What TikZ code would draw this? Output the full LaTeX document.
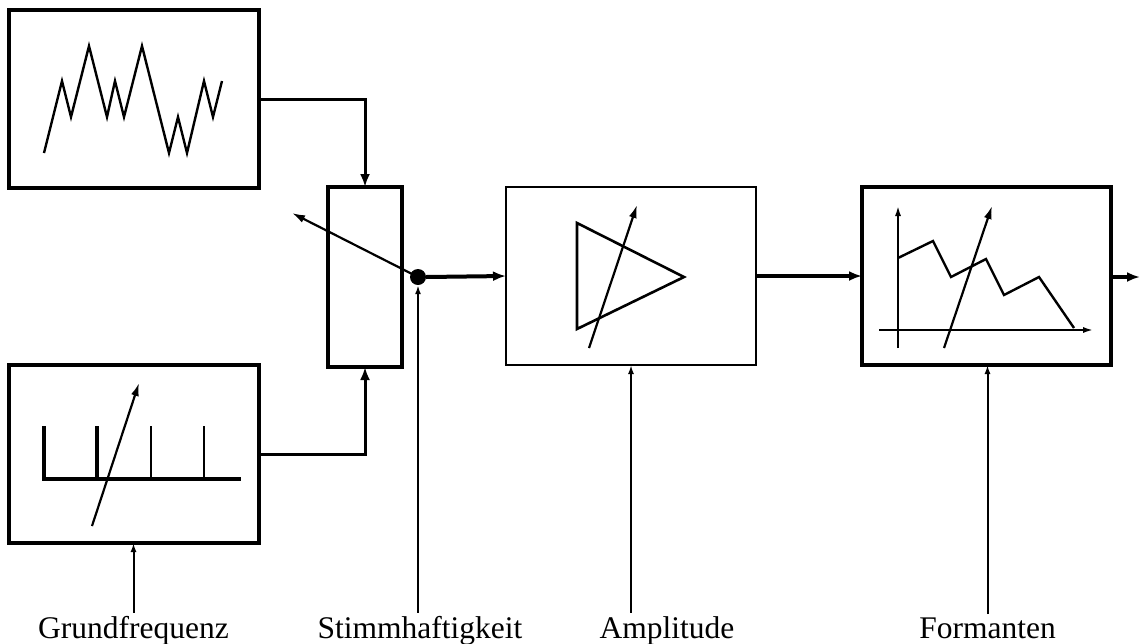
\documentclass[tikz,border=0pt]{standalone}
\usepackage{fontspec}
\setmainfont{Liberation Serif}
\usetikzlibrary{arrows.meta}
\begin{document}
\begin{tikzpicture}[x=1pt,y=-1pt,
  blk/.style={draw, line width=3.2pt, inner sep=0pt, outer sep=0pt},
  thinblk/.style={draw, line width=2.3pt, inner sep=0pt, outer sep=0pt},
  conn/.style={line width=3pt, -{Latex[length=13pt,width=10pt]}},
  sig/.style={line width=4pt, -{Latex[length=13pt,width=10pt]}},
  lbl/.style={line width=2pt, -{Latex[length=9pt,width=6pt]}},
  knob/.style={line width=2.2pt, -{Latex[length=13pt,width=8pt]}},
  icon/.style={line width=2.4pt, line join=miter},
  axis/.style={line width=2.2pt, -{Latex[length=11pt,width=6pt]}},
  txt/.style={font=\fontsize{31.5}{36}\selectfont, anchor=base, inner sep=0pt}]
\useasboundingbox (0,0) rectangle (1140,643);

% blocks
\node[blk, minimum width=250pt, minimum height=178pt] (noise) at (134,99) {};
\node[blk, minimum width=250pt, minimum height=178pt] (pulse) at (134,454) {};
\node[blk, minimum width=74pt, minimum height=180pt] (mix) at (365,277) {};
\node[thinblk, minimum width=250pt, minimum height=178pt] (amp) at (631,276) {};
\node[blk, minimum width=249pt, minimum height=178pt] (form) at (986.5,276) {};
\node[circle, fill, inner sep=0pt, minimum size=16pt] (dot) at (418,277) {};
\coordinate (wiper) at (292,213);
\coordinate (out) at (1140,277);

% labels
\node[txt] (grund) at (133.5,638) {Grundfrequenz};
\node[txt] (stimm) at (420,638) {Stimmhaftigkeit};
\node[txt] (ampl) at (667,638) {Amplitude};
\node[txt] (forml) at (987.5,638) {Formanten};

% connectors
\draw[conn] (noise.east) -| (mix.north);
\draw[conn] (pulse.east) -| (mix.south);
\draw[knob] (dot.center) -- (wiper);
\draw[sig] (dot.east) -- (amp.west);
\draw[sig] (amp.east) -- (form.west);
\draw[sig] (form.east |- out) -- (out);
\draw[lbl] (grund.north) ++(0,-3) -- (grund.north |- pulse.south);
\draw[lbl] (dot.south |- stimm.north) ++(0,-3) -- (dot.south);
\draw[lbl] (amp.south |- ampl.north) ++(0,-3) -- (amp.south);
\draw[lbl] (forml.north) ++(0,-3) -- (forml.north |- form.south);

% noise icon
\draw[icon] (44,153) -- (62,81) -- (71,117) -- (89,46) -- (107,117) -- (115,81) -- (124,117)
  -- (142,46) -- (169,153) -- (178,117) -- (187,153) -- (204,81) -- (213,117) -- (222,81);

% pulse icon
\draw[line width=3.2pt] (44,426) -- (44,479) -- (241,479);
\draw[line width=3.2pt] (97,426) -- (97,479);
\draw[line width=2.8pt] (151,426) -- (151,479);
\draw[line width=2.8pt] (204,426) -- (204,479);
\draw[knob] (92,526) -- (139,383);

% amplifier icon
\draw[line width=2.6pt, line join=miter] (577,223) -- (577,329) -- (684,277) -- cycle;
\draw[knob] (589,348) -- (637,205);

% formant icon
\draw[axis] (898,348) -- (898,205);
\draw[axis] (879,330) -- (1094,330);
\draw[icon] (898,258) -- (933,241) -- (951,277) -- (986,259) -- (1004,295) -- (1039,277) -- (1074,328);
\draw[knob] (944,348) -- (992,206);
\end{tikzpicture}
\end{document}
